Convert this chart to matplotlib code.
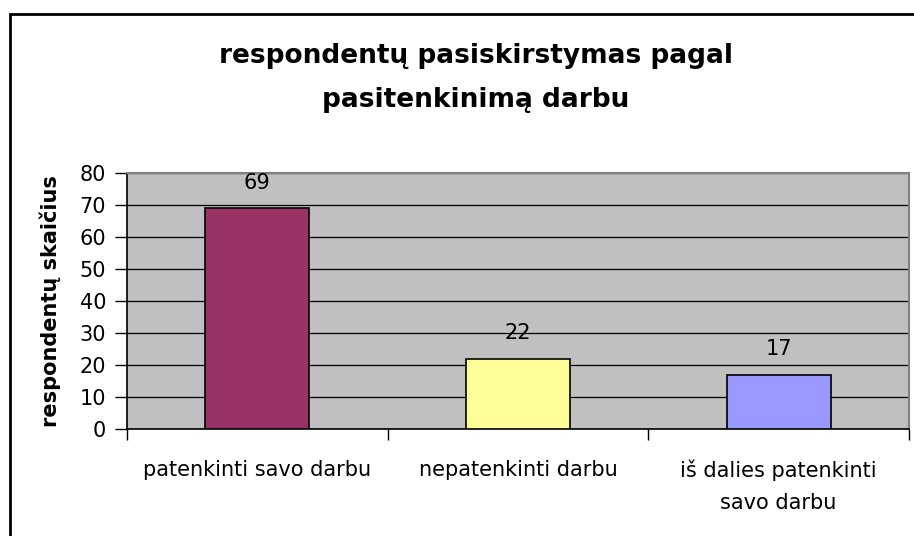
import numpy as np
import matplotlib.pyplot as plt
from matplotlib.patches import Rectangle

categories = ['patenkinti savo darbu', 'nepatenkinti darbu', 'iš dalies patenkinti\nsavo darbu']
values = [69, 22, 17]
colors = ['#993366', '#FFFF99', '#9999FF']
yticks = [0, 10, 20, 30, 40, 50, 60, 70, 80]


def main():
    plt.rcParams['font.family'] = ['DejaVu Sans']
    fig = plt.figure(figsize=(9.14, 5.36), dpi=100)
    ax = fig.add_axes([127 / 914, 1 - 429 / 536, (909 - 127) / 914, (429 - 173) / 536])

    # outer chart border (runs off the right and bottom)
    fig.patches.append(Rectangle((10 / 914, -0.2), 1.2, 0.2 + 1 - 14 / 536,
                                 transform=fig.transFigure, fill=False,
                                 edgecolor='black', lw=2))

    x = np.arange(len(categories))
    ax.set_facecolor('#C0C0C0')
    ax.bar(x, values, width=0.4, color=colors, edgecolor='black', lw=1.2, zorder=3)
    for xi, v in zip(x, values):
        ax.text(xi, v + 8, str(v), ha='center', va='center', fontsize=15, zorder=4)

    ax.set_xlim(-0.5, len(categories) - 0.5)
    ax.set_ylim(0, 80)
    ax.set_yticks(yticks)
    ax.yaxis.grid(True, color='black', lw=0.9, zorder=1)
    ax.tick_params(axis='y', labelsize=15, length=9, width=1, direction='out', pad=6)

    ax.set_xticks(np.arange(len(categories) + 1) - 0.5)
    ax.set_xticklabels([])
    ax.set_xticks(x, minor=True)
    ax.set_xticklabels(categories, minor=True, fontsize=15, linespacing=1.75)
    ax.tick_params(axis='x', which='major', length=8, width=1, direction='out')
    ax.tick_params(axis='x', which='minor', length=0, pad=22)

    for s in ['left', 'bottom']:
        ax.spines[s].set_color('black')
        ax.spines[s].set_linewidth(1.2)
    for s in ['top', 'right']:
        ax.spines[s].set_color('#808080')
        ax.spines[s].set_linewidth(1.5)

    fig.text(50 / 914, 1 - 301 / 536, 'respondentų skaičius', rotation=90,
             ha='center', va='center', fontsize=15, fontweight='bold')
    fig.text(476 / 914, 1 - 78 / 536, 'respondentų pasiskirstymas pagal\npasitenkinimą darbu',
             ha='center', va='center', fontsize=19, fontweight='bold', linespacing=1.9)

    fig.savefig('out.png', dpi=100)


if __name__ == "__main__":
    main()
